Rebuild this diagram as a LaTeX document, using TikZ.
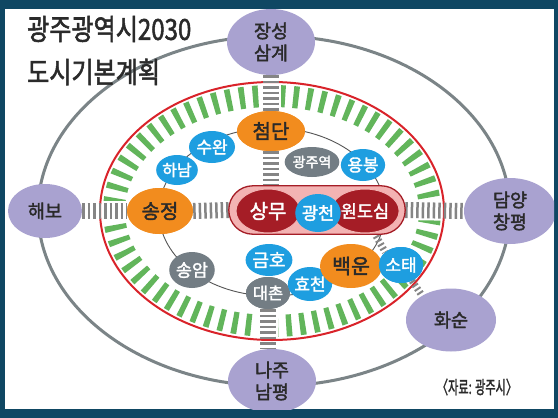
\documentclass[tikz,border=0pt]{standalone}
\usepackage{fontspec}
\setmainfont{Noto Sans CJK KR}[FakeBold=2]
\usetikzlibrary{shapes.geometric}
\definecolor{bordercol}{HTML}{0F4763}
\definecolor{arcgray}{HTML}{7B8487}
\definecolor{lav}{HTML}{A9A2D0}
\definecolor{orng}{HTML}{F28C1E}
\definecolor{blu}{HTML}{1E9EE0}
\definecolor{gry}{HTML}{737D84}
\definecolor{dred}{HTML}{A51D26}
\definecolor{pinkcap}{HTML}{F3B3B3}
\definecolor{grn}{HTML}{62B55B}
\definecolor{redline}{HTML}{D9232A}
\definecolor{laddergray}{HTML}{858585}
\definecolor{txtdark}{HTML}{2A2A2A}
\definecolor{thinline}{HTML}{555555}
\tikzset{
  sat/.style={ellipse, fill=lav, text=txtdark, inner sep=0pt, align=center,
    font=\fontsize{18.5}{22}\selectfont},
  orn/.style={ellipse, fill=orng, text=txtdark, inner sep=0pt,
    font=\fontsize{20}{21}\selectfont},
  bluenode/.style={ellipse, fill=blu, text=white, inner sep=0pt,
    font=\fontsize{17}{18}\selectfont},
  graynode/.style={ellipse, fill=gry, text=white, inner sep=0pt,
    font=\fontsize{16.5}{17}\selectfont},
  rednode/.style={ellipse, fill=dred, draw=pinkcap, line width=1pt, text=white, inner sep=0pt,
    font=\fontsize{20}{21}\selectfont},
  ladderbg/.style={draw=white, line width=20pt},
  ladder/.style={draw=laddergray, line width=16pt, dash pattern=on 2.5pt off 3pt},
  laddersmall/.style={draw=laddergray, line width=7pt, dash pattern=on 2pt off 2.5pt},
}
\begin{document}
\begin{tikzpicture}[x=1pt,y=-1pt]
\useasboundingbox (0,0) rectangle (558,418);
\fill[bordercol] (0,0) rectangle (558,418);
\fill[white] (5,9) rectangle (554,409);
\begin{scope}
\clip (5,9) rectangle (554,409);
% outer gray ellipse
\draw[arcgray, line width=3pt] (274,211) ellipse [x radius=236pt, y radius=175pt];
% green ring
\draw[grn, line width=22pt, dash pattern=on 5.5pt off 8pt] (272,211) ellipse [x radius=158pt, y radius=115pt];
% thin inner ellipse
\draw[thinline, line width=0.9pt] (272,212) ellipse [x radius=113pt, y radius=84pt];

% satellites
\node[sat, minimum width=88pt, minimum height=66pt] (jangseong) at (271,42) {장성\\삼계};
\node[sat, minimum width=74pt, minimum height=54pt] (haebo) at (45,211) {해보};
\node[sat, minimum width=92pt, minimum height=66pt] (damyang) at (510,211) {담양\\창평};
\node[sat, minimum width=88pt, minimum height=64pt] (naju) at (272,381) {나주\\남평};
\node[sat, minimum width=90pt, minimum height=63pt] (hwasun) at (451,320) {화순};

% inner nodes (first pass to have names for ladders)
\node[orn, minimum width=68pt, minimum height=40pt] (cheomdan) at (271,131) {첨단};
\node[orn, minimum width=66pt, minimum height=46pt] (songjeong) at (160,211) {송정};
\node[graynode, minimum width=44pt, minimum height=32pt] (daechon) at (268,293) {대촌};
\node[bluenode, minimum width=42pt, minimum height=36pt] (sotae) at (401,265) {소태};
\path (317,210) node[minimum width=176pt, minimum height=48pt, inner sep=0pt] (cap) {};

% ladder backgrounds
\draw[ladderbg] (jangseong.south) -- (cheomdan.north);
\draw[ladderbg] (haebo.east) -- (songjeong.west);
\draw[ladderbg] (cap.east) -- (damyang.west);
\draw[ladderbg] (daechon.south) -- (daechon.south |- naju.north);
% red ellipse
\draw[redline, line width=2pt] (272,211) ellipse [x radius=172pt, y radius=129pt];
% ladders
\draw[ladder] (jangseong.south) -- (cheomdan.north);
\draw[ladder] (cheomdan.south) -- (cheomdan.south |- cap.north);
\draw[ladder] (haebo.east) -- (songjeong.west);
\draw[ladder] (songjeong.east) -- (cap.west);
\draw[ladder] (cap.east) -- (damyang.west);
\draw[ladder] (daechon.south) -- (daechon.south |- naju.north);
\coordinate (capbr) at (376,236);
\draw[laddersmall] (capbr) -- (sotae.north west);
\draw[laddersmall] (sotae.-55) -- (hwasun.140);

% capsule
\draw[dred, fill=pinkcap, line width=1.3pt, rounded corners=24pt]
  (cap.north west) rectangle (cap.south east);

% redraw inner nodes on top
\node[orn, minimum width=68pt, minimum height=40pt] at (cheomdan) {첨단};
\node[bluenode, minimum width=38pt, minimum height=30pt, font=\fontsize{16}{17}\selectfont] (hanam) at (177,170) {하남};
\node[bluenode, minimum width=46pt, minimum height=32pt] (suwan) at (212,147) {수완};
\node[orn, minimum width=66pt, minimum height=46pt] at (songjeong) {송정};
\node[graynode, minimum width=46pt, minimum height=30pt, font=\fontsize{14}{15}\selectfont] (gwangjuyeok) at (312,162) {광주역};
\node[bluenode, minimum width=44pt, minimum height=32pt] (yongbong) at (363,165) {용봉};
\node[rednode, minimum width=64pt, minimum height=44pt] (sangmu) at (268,211) {상무};
\node[rednode, minimum width=60pt, minimum height=44pt, font=\fontsize{17.5}{18}\selectfont] (wondosim) at (365,211) {원도심};
\node[bluenode, minimum width=40pt, minimum height=38pt, font=\fontsize{17.5}{18}\selectfont] (gwangcheon) at (318,213) {광천};
\node[graynode, minimum width=42pt, minimum height=36pt, font=\fontsize{17.5}{18}\selectfont] (songam) at (192,270) {송암};
\node[bluenode, minimum width=46pt, minimum height=32pt, font=\fontsize{18}{19}\selectfont] (geumho) at (269,260) {금호};
\node[graynode, minimum width=44pt, minimum height=32pt] at (daechon) {대촌};
\node[bluenode, minimum width=44pt, minimum height=34pt] (hyocheon) at (310,284) {효천};
\node[orn, minimum width=62pt, minimum height=44pt, font=\fontsize{20.5}{21}\selectfont] (baegun) at (351,266) {백운};
\node[bluenode, minimum width=42pt, minimum height=36pt] at (sotae) {소태};

% titles
\node[anchor=west, text=txtdark, inner sep=0pt, font=\fontsize{29}{30}\selectfont] (title1) at (27,29) {\scalebox{0.83}[1]{광주광역시2030}};
\node[anchor=west, text=txtdark, inner sep=0pt, font=\fontsize{29}{30}\selectfont] (title2) at (27,72) {\scalebox{0.83}[1]{도시기본계획}};
\node[text=txtdark, inner sep=0pt, font=\fontsize{18}{19}\selectfont] (source) at (477,387) {\scalebox{0.62}[1]{〈자료: 광주시〉}};
\end{scope}
\end{tikzpicture}
\end{document}
